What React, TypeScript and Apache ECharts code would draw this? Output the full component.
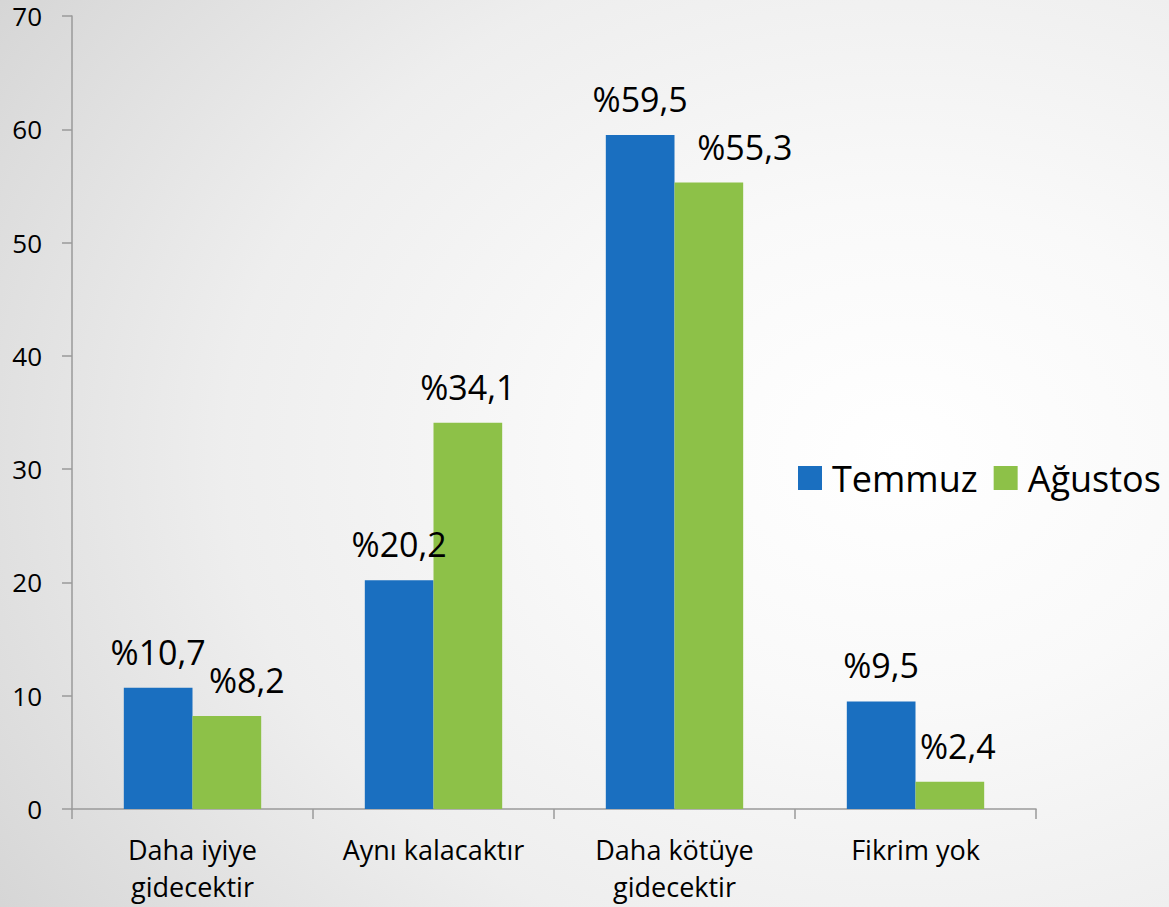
import React, { useEffect, useRef } from "react";
import * as echarts from "echarts";

const categories = ["Daha iyiye\ngidecektir", "Aynı kalacaktır", "Daha kötüye\ngidecektir", "Fikrim yok"];
const temmuz = [10.7, 20.2, 59.5, 9.5];
const agustos = [8.2, 34.1, 55.3, 2.4];
const seriesNames = ["Temmuz", "Ağustos"];
// horizontal nudges of value labels (to avoid overlap, as in the original)
const temmuzLabelShift = [0, 0, 0, 0];
const agustosLabelShift = [20, 0, 36, 8];

const FONT = "'Open Sans', 'Noto Sans', sans-serif";

export default function App() {
  const ref = useRef<HTMLDivElement>(null);
  useEffect(() => {
    if (!ref.current) return;
    const chart = echarts.init(ref.current, null, { renderer: "svg" });
    const fmt = (p: any) => "%" + String(p.value).replace(".", ",");
    const labelBase = { show: true, position: "top", distance: 19, formatter: fmt, fontSize: 34, color: "#000", fontFamily: FONT };
    const build = (vals: number[], shifts: number[]) =>
      vals.map((v, i) => ({ value: v, label: { offset: [shifts[i], 0] } }));
    chart.setOption({
      animation: false,
      backgroundColor: new echarts.graphic.RadialGradient(0.77, 0.5, 1.11, [
        { offset: 0, color: "#ffffff" },
        { offset: 0.25, color: "#f9f9f9" },
        { offset: 0.52, color: "#eeeeee" },
        { offset: 0.75, color: "#dcdcdc" },
        { offset: 1, color: "#c8c8c8" },
      ]),
      textStyle: { fontFamily: FONT },
      grid: { left: 72, right: 133, top: 16, bottom: 98, containLabel: false },
      legend: {
        data: seriesNames,
        left: 793,
        top: 455,
        width: 420,
        orient: "horizontal",
        itemWidth: 24,
        itemHeight: 24,
        itemGap: 16,
        icon: "rect",
        textStyle: { fontSize: 36, color: "#000", fontFamily: FONT, padding: [0, 0, 0, 5] },
      },
      xAxis: {
        type: "category",
        data: categories,
        axisLine: { lineStyle: { color: "#9a9a9a", width: 1.5 } },
        axisTick: { show: true, length: 10, interval: 0, lineStyle: { color: "#9a9a9a", width: 1.5 } },
        axisLabel: { interval: 0, fontSize: 27, color: "#000", margin: 22, lineHeight: 37, fontFamily: FONT },
      },
      yAxis: {
        type: "value",
        min: 0,
        max: 70,
        interval: 10,
        splitLine: { show: false },
        axisLine: { show: true, lineStyle: { color: "#9a9a9a", width: 1.5 } },
        axisTick: { show: true, length: 10, lineStyle: { color: "#9a9a9a", width: 1.5 } },
        axisLabel: { fontSize: 26, lineHeight: 26, color: "#000", margin: 30, fontFamily: FONT },
      },
      series: [
        {
          name: seriesNames[0],
          type: "bar",
          data: build(temmuz, temmuzLabelShift),
          barCategoryGap: "43%",
          barGap: "0%",
          itemStyle: { color: "#1A6FC0" },
          label: labelBase,
        },
        {
          name: seriesNames[1],
          type: "bar",
          data: build(agustos, agustosLabelShift),
          barCategoryGap: "43%",
          barGap: "0%",
          itemStyle: { color: "#8DC148" },
          label: labelBase,
        },
      ],
    });
    return () => chart.dispose();
  }, []);
  return <div ref={ref} style={{ position: "absolute", left: 0, top: 0, width: 1169, height: 907 }} />;
}
